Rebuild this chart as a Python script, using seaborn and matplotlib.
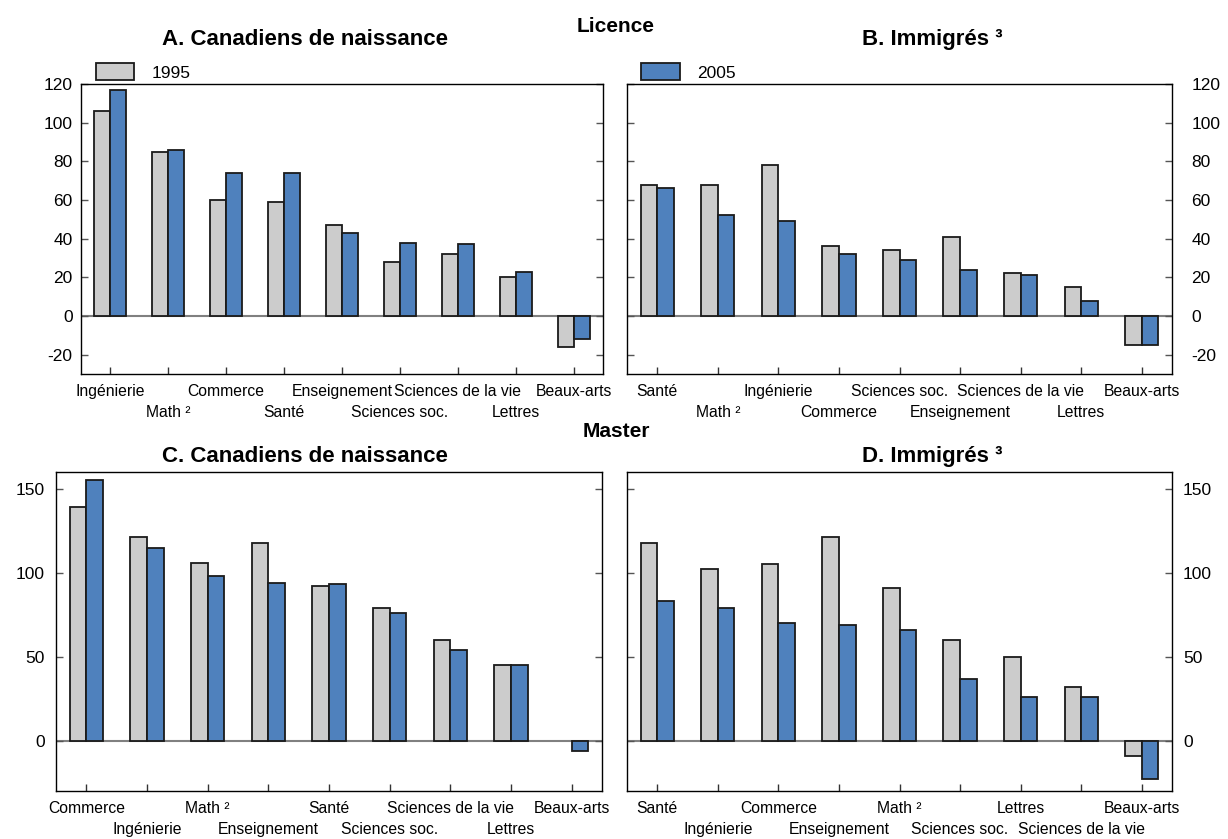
import matplotlib
matplotlib.use("Agg")
import matplotlib.pyplot as plt
from matplotlib.patches import Patch
import seaborn as sns
import pandas as pd

# ---------------- data ----------------
years = ["1995", "2005"]

cats_a = ["Ingénierie", "Math ²", "Commerce", "Santé", "Enseignement",
          "Sciences soc.", "Sciences de la vie", "Lettres", "Beaux-arts"]
a_1995 = [106, 85, 60, 59, 47, 28, 32, 20, -16]
a_2005 = [117, 86, 74, 74, 43, 38, 37, 23, -12]

cats_b = ["Santé", "Math ²", "Ingénierie", "Commerce", "Sciences soc.",
          "Enseignement", "Sciences de la vie", "Lettres", "Beaux-arts"]
b_1995 = [68, 68, 78, 36, 34, 41, 22, 15, -15]
b_2005 = [66, 52, 49, 32, 29, 24, 21, 8, -15]

cats_c = ["Commerce", "Ingénierie", "Math ²", "Enseignement", "Santé",
          "Sciences soc.", "Sciences de la vie", "Lettres", "Beaux-arts"]
c_1995 = [139, 121, 106, 118, 92, 79, 60, 45, None]
c_2005 = [155, 115, 98, 94, 93, 76, 54, 45, -6]

cats_d = ["Santé", "Ingénierie", "Commerce", "Enseignement", "Math ²",
          "Sciences soc.", "Lettres", "Sciences de la vie", "Beaux-arts"]
d_1995 = [118, 102, 105, 121, 91, 60, 50, 32, -9]
d_2005 = [83, 79, 70, 69, 66, 37, 26, 26, -23]

titles = ["A. Canadiens de naissance", "B. Immigrés ³",
          "C. Canadiens de naissance", "D. Immigrés ³"]
row_titles = ["Licence", "Master"]

colors = {"1995": "#CCCCCC", "2005": "#4F81BD"}

# ---------------- style ----------------
sns.set_style("ticks")
plt.rcParams["font.family"] = ["Liberation Sans", "DejaVu Sans"]
plt.rcParams["axes.unicode_minus"] = False
plt.rcParams["text.color"] = "black"

W, H = 1228, 839
fig = plt.figure(figsize=(W / 100, H / 100), dpi=100)


def fr(l, t, r, b):
    return [l / W, 1 - b / H, (r - l) / W, (b - t) / H]


panels = [
    (cats_a, a_1995, a_2005, fr(81, 84, 603, 374), (-30, 120), list(range(-20, 121, 20)), "left", 6),
    (cats_b, b_1995, b_2005, fr(627, 84, 1172, 374), (-30, 120), list(range(-20, 121, 20)), "right", 14),
    (cats_c, c_1995, c_2005, fr(56, 472, 602, 791), (-30, 160), [0, 50, 100, 150], "left", 8),
    (cats_d, d_1995, d_2005, fr(627, 472, 1172, 791), (-30, 160), [0, 50, 100, 150], "right", 8),
]

axes = []
for cats, v95, v05, pos, ylim, yticks, side, ypad in panels:
    ax = fig.add_axes(pos)
    df = pd.DataFrame({
        "cat": cats * 2,
        "val": pd.Series(v95 + v05, dtype="float"),
        "year": ["1995"] * len(cats) + ["2005"] * len(cats),
    })
    sns.barplot(data=df, x="cat", y="val", hue="year", order=cats,
                hue_order=years, palette=colors, saturation=1, width=0.55,
                edgecolor="#1a1a1a", linewidth=1.3, ax=ax, legend=False,
                errorbar=None)
    ax.axhline(0, color="#808080", lw=1.5, zorder=0.5)
    ax.set_xlim(-0.5, len(cats) - 0.5)
    ax.set_ylim(*ylim)
    ax.set_yticks(yticks)
    ax.set_xlabel("")
    ax.set_ylabel("")
    ax.set_xticks(range(len(cats)))
    ax.set_xticklabels(cats, fontsize=11.3)
    ax.tick_params(axis="x", direction="in", length=5, width=1, pad=7,
                   bottom=True, top=False, colors="#333333", labelcolor="black")
    ax.tick_params(axis="y", direction="in", length=5, width=1, pad=ypad,
                   left=True, right=True, labelsize=12.5,
                   labelleft=(side == "left"), labelright=(side == "right"),
                   colors="#555555", labelcolor="black")
    for i, tick in enumerate(ax.xaxis.get_major_ticks()):
        if i % 2 == 1:
            tick.set_pad(22)
    for s in ax.spines.values():
        s.set_visible(True)
        s.set_color("black")
        s.set_linewidth(1)
    axes.append(ax)

# legends above panels A and B
axes[0].legend(handles=[Patch(facecolor=colors["1995"], edgecolor="#1a1a1a", linewidth=1.3)],
               labels=["1995"], loc="lower left", bbox_to_anchor=(0.022, 1.0),
               frameon=False, borderpad=0, borderaxespad=0.2, handlelength=2.2,
               handleheight=1.1, handletextpad=1.0, fontsize=12.5)
axes[1].legend(handles=[Patch(facecolor=colors["2005"], edgecolor="#1a1a1a", linewidth=1.3)],
               labels=["2005"], loc="lower left", bbox_to_anchor=(0.02, 1.0),
               frameon=False, borderpad=0, borderaxespad=0.2, handlelength=2.2,
               handleheight=1.1, handletextpad=1.0, fontsize=12.5)

# titles
fig.text(305 / W, 1 - 45 / H, titles[0], ha="center", va="baseline",
         fontsize=16, fontweight="bold")
fig.text(932 / W, 1 - 45 / H, titles[1], ha="center", va="baseline",
         fontsize=16, fontweight="bold")
fig.text(305 / W, 1 - 462 / H, titles[2], ha="center", va="baseline",
         fontsize=16, fontweight="bold")
fig.text(932 / W, 1 - 462 / H, titles[3], ha="center", va="baseline",
         fontsize=16, fontweight="bold")
fig.text(616 / W, 1 - 32 / H, row_titles[0], ha="center", va="baseline",
         fontsize=15, fontweight="bold")
fig.text(616 / W, 1 - 437 / H, row_titles[1], ha="center", va="baseline",
         fontsize=15, fontweight="bold")

fig.savefig("out.png", dpi=100, facecolor="white")
